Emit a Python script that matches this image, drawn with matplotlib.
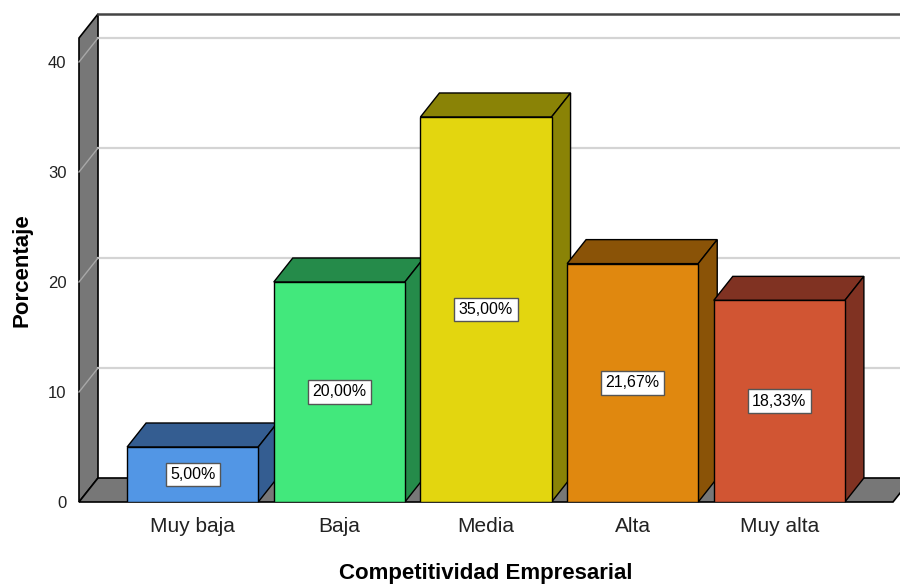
# 3d-style bar chart, competitividad empresarial

import matplotlib.pyplot as plt
from matplotlib.patches import Polygon

plt.rcParams['font.family'] = ['Liberation Sans', 'DejaVu Sans']

categories = ['Muy baja', 'Baja', 'Media', 'Alta', 'Muy alta']
percent = [5.00, 20.00, 35.00, 21.67, 18.33]
y_ticks = [0, 10, 20, 30, 40]

front_colors = ['#5296e5', '#42e87c', '#e3d60f', '#e0880f', '#d15533']
dark_colors = ['#345d91', '#258b4a', '#8a8306', '#8a5307', '#803222']

# figure layout (pixels of a 900x585 canvas)
W, H = 900, 585
fig = plt.figure(figsize=(W / 100, H / 100), dpi=100)
ax = fig.add_axes([79 / W, 83 / H, 814 / W, 464 / H])

xmin, xmax = -0.775, len(categories) - 1 + 0.775
ymin, ymax = 0, 42.18
ax.set_xlim(xmin, xmax)
ax.set_ylim(ymin, ymax)

# depth offset of the oblique projection, in data units
ddx = 19 * (xmax - xmin) / 814
ddy = 24 * (ymax - ymin) / 464
bar_w = 0.894

# left wall
wall = Polygon([(xmin, ymin), (xmin + ddx, ymin + ddy), (xmin + ddx, ymax + ddy), (xmin, ymax)],
               closed=True, fc='#777777', ec='black', lw=1.2, clip_on=False, zorder=1)
ax.add_patch(wall)

# floor
floor = Polygon([(xmin, ymin), (xmax, ymin), (xmax + ddx, ymin + ddy), (xmin + ddx, ymin + ddy)],
                closed=True, fc='#777777', ec='black', lw=1.2, clip_on=False, zorder=1)
ax.add_patch(floor)

# gridlines on back wall and left wall
for t in y_ticks[1:]:
    ax.plot([xmin + ddx, xmax + ddx], [t + ddy, t + ddy], color='#d4d4d4', lw=1.6,
            clip_on=False, zorder=1.2)
    ax.plot([xmin, xmin + ddx], [t, t + ddy], color='#a8a8a8', lw=1.0,
            clip_on=False, zorder=1.2)

# top border of back wall
ax.plot([xmin + ddx, xmax + ddx], [ymax + ddy, ymax + ddy], color='#444444', lw=1.8,
        clip_on=False, zorder=1.3)

# bars, drawn left to right so later bars hide earlier side faces
for i, v in enumerate(percent):
    z = 2 + 2 * i
    left = i - bar_w / 2
    right = i + bar_w / 2
    top = Polygon([(left, v), (right, v), (right + ddx, v + ddy), (left + ddx, v + ddy)],
                  closed=True, fc=dark_colors[i], ec='black', lw=1, clip_on=False, zorder=z)
    side = Polygon([(right, 0), (right + ddx, ddy), (right + ddx, v + ddy), (right, v)],
                   closed=True, fc=dark_colors[i], ec='black', lw=1, clip_on=False, zorder=z)
    ax.add_patch(top)
    ax.add_patch(side)
    ax.bar(i, v, width=bar_w, color=front_colors[i], edgecolor='black', lw=1, zorder=z + 1)
    lbl = f'{v:.2f}%'.replace('.', ',')
    ax.text(i, v / 2, lbl, ha='center', va='center', fontsize=11.5, zorder=20,
            bbox=dict(boxstyle='square,pad=0.28', fc='white', ec='#555555', lw=1))

ax.set_xticks(range(len(categories)))
ax.set_xticklabels(categories, fontsize=15, color='#222222')
ax.set_yticks(y_ticks)
ax.set_yticklabels([str(t) for t in y_ticks], fontsize=12, color='#222222')
ax.tick_params(axis='x', length=0, pad=11)
ax.tick_params(axis='y', length=0, pad=9)
for s in ax.spines.values():
    s.set_visible(False)
ax.patch.set_visible(False)

ax.set_xlabel('Competitividad Empresarial', fontsize=16, fontweight='bold', labelpad=19)
ax.set_ylabel('Porcentaje', fontsize=16, fontweight='bold', labelpad=11)

plt.savefig('out.png', dpi=100)
